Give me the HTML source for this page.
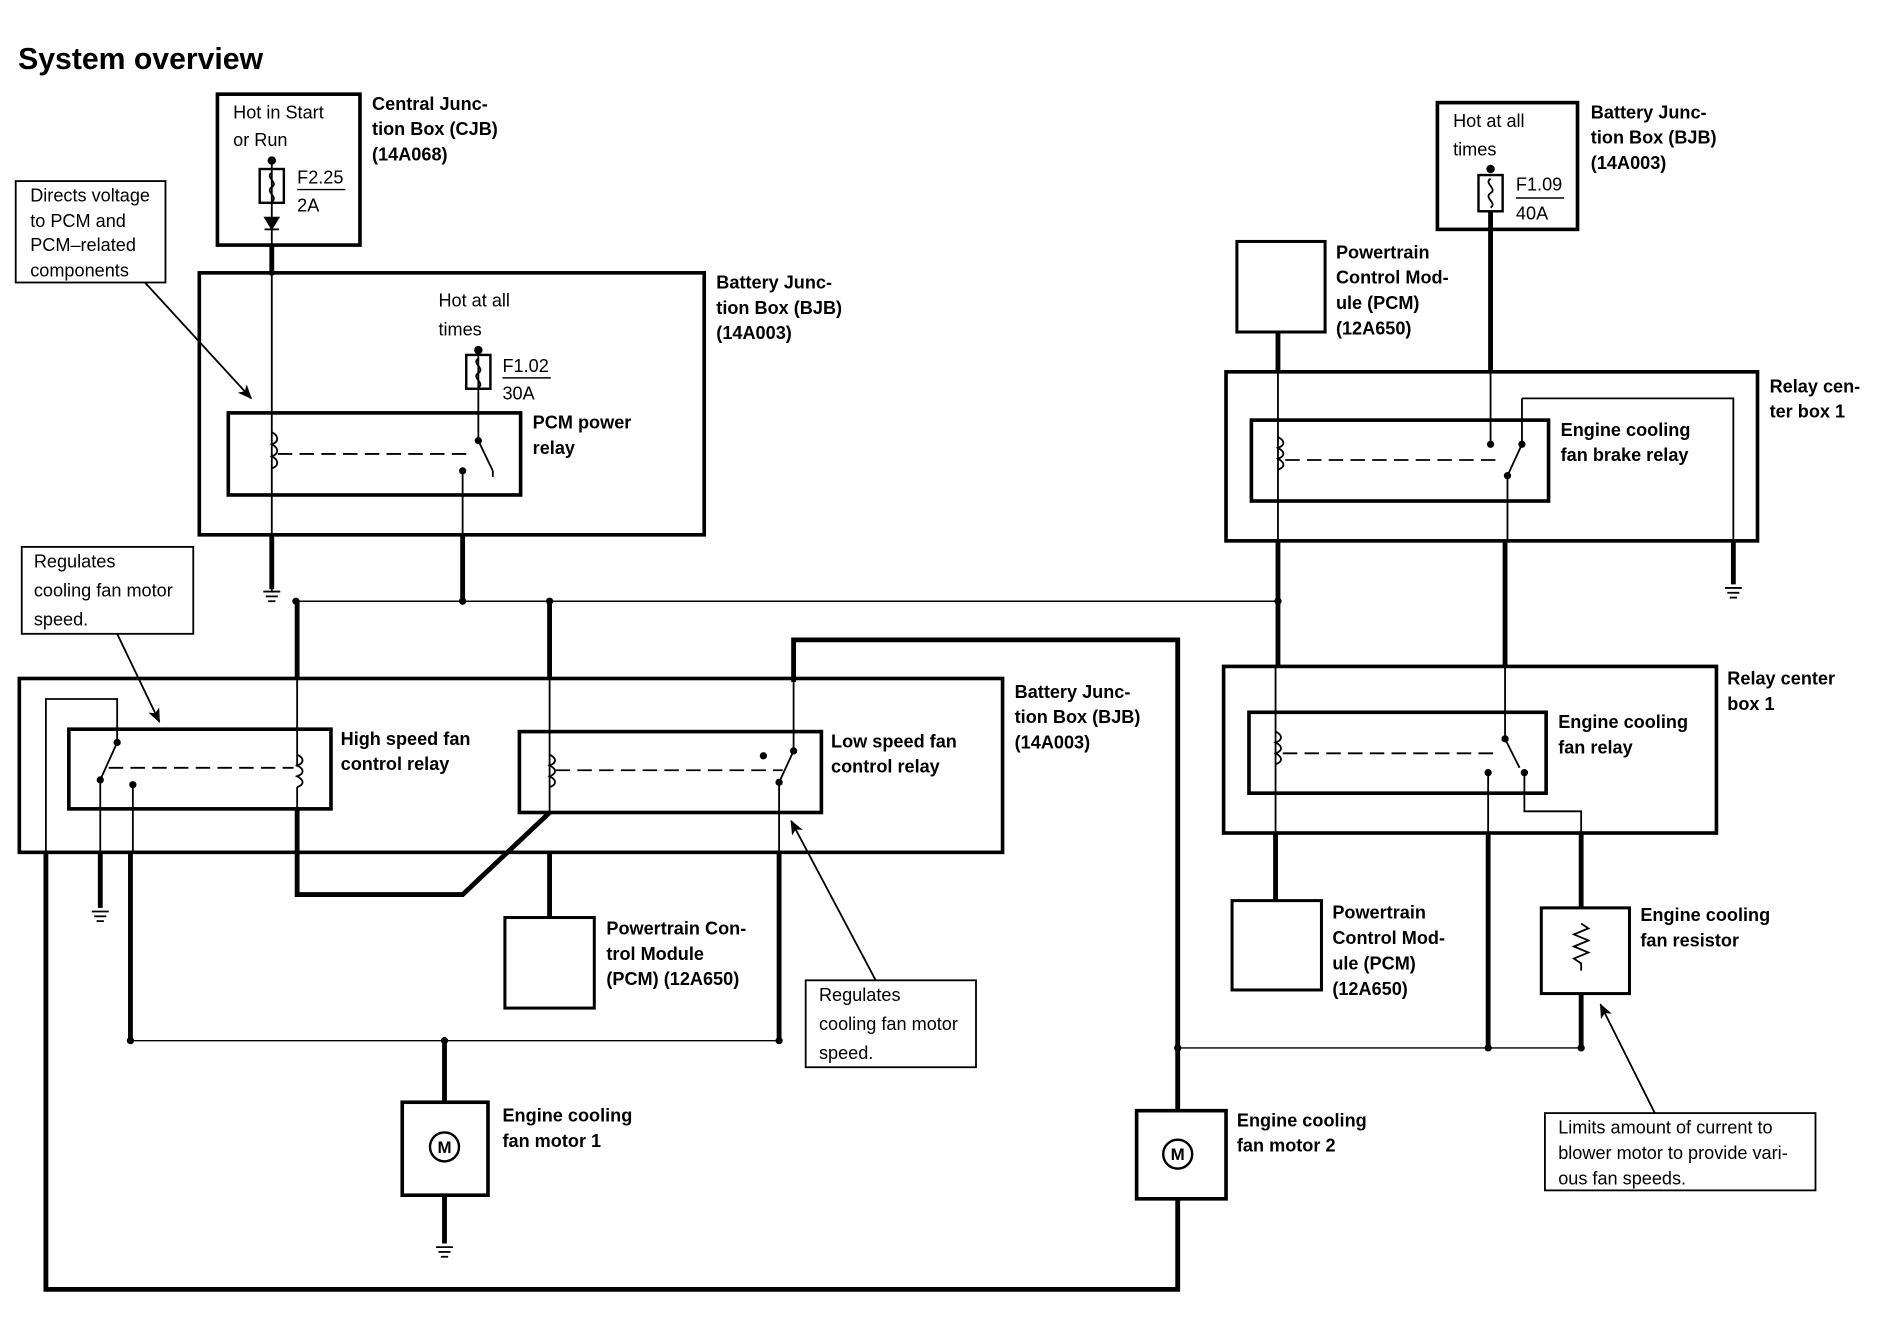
<!DOCTYPE html>
<html><head><meta charset="utf-8"><style>
html,body{margin:0;padding:0;background:#fff;}
svg{display:block;}
text{font-family:"Liberation Sans",Arial,sans-serif;fill:#000;}
.b{font-weight:bold;font-size:15px;}
.r{font-size:15px;}
</style></head><body>
<svg width="1894" height="1328" viewBox="0 0 1568 1100" preserveAspectRatio="none" xmlns="http://www.w3.org/2000/svg">
<defs>
<marker id="ar" markerWidth="12" markerHeight="10" refX="11" refY="5" orient="auto" markerUnits="userSpaceOnUse"><path d="M0,0 L12,5 L0,10 L3,5 Z" fill="#000"/></marker>
</defs>
<g fill="none" stroke="#000">
<rect x="180" y="78" width="118" height="125" stroke-width="3"/>
<line x1="225" y1="133" x2="225" y2="490" stroke-width="1.5"/>
<rect x="215" y="140" width="20" height="28" stroke-width="2"/>
<path d="M225,143 c-6,4 6,8 0,12 c-6,4 6,8 0,12" stroke-width="1.5"/>
<path d="M219,180 L231,180 L225,190 Z" fill="#000"/>
<line x1="219" y1="190" x2="231" y2="190" stroke-width="1.5"/>
<line x1="225" y1="203" x2="225" y2="228" stroke-width="4"/>
<line x1="246" y1="157" x2="286" y2="157" stroke-width="1.2"/>
<rect x="13" y="150" width="124" height="84" stroke-width="1.5"/>
<line x1="120" y1="234" x2="208" y2="330" stroke-width="1.5" marker-end="url(#ar)"/>
<rect x="165" y="226" width="418" height="217" stroke-width="3"/>
<rect x="386" y="294" width="20" height="28" stroke-width="2"/>
<path d="M396,297 c-6,4 6,8 0,12 c-6,4 6,8 0,12" stroke-width="1.5"/>
<line x1="396" y1="290" x2="396" y2="365" stroke-width="1.5"/>
<line x1="416" y1="313" x2="456" y2="313" stroke-width="1.2"/>
<rect x="189" y="342" width="242" height="68" stroke-width="3"/>
<path d="M225,358 c6,3 6,8 0,10 c6,3 6,8 0,10 c6,3 6,8 0,10" stroke-width="1.5"/>
<line x1="230" y1="376" x2="390" y2="376" stroke-width="1.5" stroke-dasharray="12,6"/>
<line x1="396" y1="365" x2="408" y2="390" stroke-width="1.5"/>
<line x1="408" y1="390" x2="408" y2="395" stroke-width="1.5"/>
<line x1="383" y1="390" x2="383" y2="443" stroke-width="1.5"/>
<line x1="225" y1="443" x2="225" y2="488" stroke-width="4"/>
<line x1="383" y1="443" x2="383" y2="498" stroke-width="4"/>
<line x1="245" y1="498" x2="1058" y2="498" stroke-width="1.2"/>
<line x1="246" y1="498" x2="246" y2="562" stroke-width="4"/>
<line x1="246" y1="562" x2="246" y2="635" stroke-width="1.5"/>
<line x1="455" y1="498" x2="455" y2="562" stroke-width="4"/>
<line x1="455" y1="562" x2="455" y2="673" stroke-width="1.5"/>
<rect x="18" y="453" width="142" height="72" stroke-width="1.5"/>
<line x1="97" y1="525" x2="132" y2="598" stroke-width="1.5" marker-end="url(#ar)"/>
<rect x="16" y="562" width="814" height="144" stroke-width="3"/>
<polyline points="38,706 38,579 97,579 97,615" stroke-width="1.5"/>
<rect x="57" y="604" width="217" height="66" stroke-width="3"/>
<line x1="97" y1="615" x2="83" y2="646" stroke-width="1.5"/>
<line x1="90" y1="636" x2="243" y2="636" stroke-width="1.5" stroke-dasharray="12,6"/>
<path d="M246,625 c6,3 6,7 0,9 c6,3 6,7 0,9 c6,3 6,7 0,9" stroke-width="1.5"/>
<line x1="246" y1="652" x2="246" y2="670" stroke-width="1.5"/>
<line x1="83" y1="646" x2="83" y2="706" stroke-width="1.5"/>
<line x1="110" y1="650" x2="110" y2="706" stroke-width="1.5"/>
<line x1="83" y1="706" x2="83" y2="752" stroke-width="4"/>
<line x1="108" y1="706" x2="108" y2="862" stroke-width="4"/>
<polyline points="246,670 246,741 383,741 455,673" stroke-width="4"/>
<rect x="430" y="606" width="250" height="67" stroke-width="3"/>
<path d="M455,625 c6,3 6,7 0,9 c6,3 6,7 0,9 c6,3 6,7 0,9" stroke-width="1.5"/>
<line x1="460" y1="638" x2="648" y2="638" stroke-width="1.5" stroke-dasharray="12,6"/>
<line x1="657" y1="565" x2="657" y2="622" stroke-width="1.5"/>
<line x1="657" y1="622" x2="645" y2="648" stroke-width="1.5"/>
<line x1="645" y1="648" x2="645" y2="706" stroke-width="1.5"/>
<polyline points="657,565 657,530 975,530 975,920" stroke-width="4"/>
<line x1="645" y1="706" x2="645" y2="862" stroke-width="4"/>
<line x1="455" y1="706" x2="455" y2="760" stroke-width="4"/>
<rect x="418" y="760" width="74" height="75" stroke-width="2.5"/>
<rect x="667" y="812" width="141" height="72" stroke-width="1.5"/>
<line x1="725" y1="812" x2="655" y2="680" stroke-width="1.5" marker-end="url(#ar)"/>
<line x1="108" y1="862" x2="645" y2="862" stroke-width="1.2"/>
<line x1="368" y1="862" x2="368" y2="913" stroke-width="4"/>
<rect x="333" y="913" width="71" height="77" stroke-width="3"/>
<circle cx="368" cy="950" r="12" stroke-width="2"/>
<line x1="368" y1="990" x2="368" y2="1030" stroke-width="4"/>
<polyline points="38,706 38,1068 975,1068 975,993" stroke-width="4"/>
<rect x="941" y="920" width="74" height="73" stroke-width="3"/>
<circle cx="975" cy="956" r="12" stroke-width="2"/>
<line x1="975" y1="868" x2="1309" y2="868" stroke-width="1.2"/>
<rect x="1190" y="85" width="116" height="105" stroke-width="3"/>
<rect x="1224" y="145" width="20" height="30" stroke-width="2"/>
<path d="M1234,148 c-6,4 6,8 0,12 c-6,4 6,8 0,12" stroke-width="1.5"/>
<line x1="1255" y1="164" x2="1295" y2="164" stroke-width="1.2"/>
<line x1="1234" y1="175" x2="1234" y2="308" stroke-width="4"/>
<rect x="1024" y="200" width="73" height="75" stroke-width="2.5"/>
<line x1="1058" y1="275" x2="1058" y2="308" stroke-width="4"/>
<rect x="1015" y="308" width="440" height="140" stroke-width="3"/>
<rect x="1036" y="348" width="246" height="67" stroke-width="3"/>
<line x1="1058" y1="308" x2="1058" y2="448" stroke-width="1.5"/>
<path d="M1058,362 c6,3 6,7 0,9 c6,3 6,7 0,9 c6,3 6,7 0,9" stroke-width="1.5"/>
<line x1="1064" y1="381" x2="1240" y2="381" stroke-width="1.5" stroke-dasharray="12,6"/>
<line x1="1234" y1="308" x2="1234" y2="368" stroke-width="1.5"/>
<polyline points="1260,330 1435,330 1435,448" stroke-width="1.5"/>
<polyline points="1260,330 1260,368 1248,394 1248,448" stroke-width="1.5"/>
<line x1="1058" y1="448" x2="1058" y2="552" stroke-width="4"/>
<line x1="1246" y1="448" x2="1246" y2="552" stroke-width="4"/>
<line x1="1435" y1="448" x2="1435" y2="484" stroke-width="4"/>
<rect x="1013" y="552" width="408" height="138" stroke-width="3"/>
<rect x="1034" y="590" width="246" height="67" stroke-width="3"/>
<line x1="1056" y1="552" x2="1056" y2="690" stroke-width="1.5"/>
<path d="M1056,606 c6,3 6,7 0,9 c6,3 6,7 0,9 c6,3 6,7 0,9" stroke-width="1.5"/>
<line x1="1062" y1="624" x2="1240" y2="624" stroke-width="1.5" stroke-dasharray="12,6"/>
<line x1="1246" y1="552" x2="1246" y2="612" stroke-width="1.5"/>
<line x1="1246" y1="612" x2="1258" y2="636" stroke-width="1.5"/>
<line x1="1232" y1="640" x2="1232" y2="690" stroke-width="1.5"/>
<polyline points="1262,640 1262,672 1309,672 1309,690" stroke-width="1.5"/>
<line x1="1056" y1="690" x2="1056" y2="746" stroke-width="4"/>
<rect x="1020" y="746" width="74" height="74" stroke-width="2.5"/>
<line x1="1232" y1="690" x2="1232" y2="868" stroke-width="4"/>
<line x1="1309" y1="690" x2="1309" y2="752" stroke-width="4"/>
<rect x="1276" y="752" width="73" height="71" stroke-width="2.5"/>
<path d="M1309,765 l6,4 l-12,5 l12,5 l-12,5 l12,5 l-12,5 l6,4 l0,6" stroke-width="1.5"/>
<line x1="1309" y1="823" x2="1309" y2="868" stroke-width="4"/>
<rect x="1279" y="922" width="224" height="64" stroke-width="1.5"/>
<line x1="1370" y1="922" x2="1325" y2="832" stroke-width="1.5" marker-end="url(#ar)"/>
</g>
<g fill="#000">
<circle cx="225" cy="133" r="3.5"/><circle cx="396" cy="290" r="3.5"/><circle cx="1234" cy="140" r="3.5"/>
<circle cx="396" cy="365" r="3"/><circle cx="383" cy="390" r="3"/>
<circle cx="245" cy="498" r="3"/><circle cx="383" cy="498" r="3"/><circle cx="455" cy="498" r="3"/><circle cx="1058" cy="498" r="3"/>
<circle cx="97" cy="615" r="3"/><circle cx="83" cy="646" r="3"/><circle cx="110" cy="650" r="3"/>
<circle cx="632" cy="626" r="3"/><circle cx="657" cy="622" r="3"/><circle cx="645" cy="648" r="3"/>
<circle cx="108" cy="862" r="3"/><circle cx="368" cy="862" r="3"/><circle cx="645" cy="862" r="3"/>
<circle cx="975" cy="868" r="3"/><circle cx="1232" cy="868" r="3"/><circle cx="1309" cy="868" r="3"/>
<circle cx="1234" cy="368" r="3"/><circle cx="1260" cy="368" r="3"/><circle cx="1248" cy="394" r="3"/>
<circle cx="1246" cy="612" r="3"/><circle cx="1232" cy="640" r="3"/><circle cx="1262" cy="640" r="3"/>
</g>
<g stroke="#000" stroke-width="1.5">
<line x1="218" y1="490" x2="232" y2="490"/><line x1="220" y1="494" x2="230" y2="494"/><line x1="222" y1="498" x2="228" y2="498"/>
<line x1="76" y1="755" x2="90" y2="755"/><line x1="78" y1="759" x2="88" y2="759"/><line x1="80" y1="763" x2="86" y2="763"/>
<line x1="361" y1="1033" x2="375" y2="1033"/><line x1="363" y1="1037" x2="373" y2="1037"/><line x1="365" y1="1041" x2="371" y2="1041"/>
<line x1="1428" y1="487" x2="1442" y2="487"/><line x1="1430" y1="491" x2="1440" y2="491"/><line x1="1432" y1="495" x2="1438" y2="495"/>
</g>
<text x="15" y="57" style="font-weight:bold;font-size:25px">System overview</text>
<text class="r" x="193" y="98">Hot in Start</text><text class="r" x="193" y="121">or Run</text>
<text class="r" x="246" y="152">F2.25</text><text class="r" x="246" y="175">2A</text>
<text class="b" x="308" y="91">Central Junc-</text><text class="b" x="308" y="112">tion Box (CJB)</text><text class="b" x="308" y="133">(14A068)</text>
<text class="r" x="25" y="167">Directs voltage</text><text class="r" x="25" y="188">to PCM and</text><text class="r" x="25" y="208">PCM–related</text><text class="r" x="25" y="229">components</text>
<text class="r" x="363" y="254">Hot at all</text><text class="r" x="363" y="278">times</text>
<text class="r" x="416" y="308">F1.02</text><text class="r" x="416" y="331">30A</text>
<text class="b" x="593" y="239">Battery Junc-</text><text class="b" x="593" y="260">tion Box (BJB)</text><text class="b" x="593" y="281">(14A003)</text>
<text class="b" x="441" y="355">PCM power</text><text class="b" x="441" y="376">relay</text>
<text class="r" x="28" y="470">Regulates</text><text class="r" x="28" y="494">cooling fan motor</text><text class="r" x="28" y="518">speed.</text>
<text class="b" x="282" y="617">High speed fan</text><text class="b" x="282" y="638">control relay</text>
<text class="b" x="688" y="619">Low speed fan</text><text class="b" x="688" y="640">control relay</text>
<text class="b" x="840" y="578">Battery Junc-</text><text class="b" x="840" y="599">tion Box (BJB)</text><text class="b" x="840" y="620">(14A003)</text>
<text class="b" x="502" y="774">Powertrain Con-</text><text class="b" x="502" y="795">trol Module</text><text class="b" x="502" y="816">(PCM) (12A650)</text>
<text class="r" x="678" y="829">Regulates</text><text class="r" x="678" y="853">cooling fan motor</text><text class="r" x="678" y="877">speed.</text>
<text x="368" y="955" text-anchor="middle" style="font-weight:bold;font-size:14px">M</text>
<text x="975" y="961" text-anchor="middle" style="font-weight:bold;font-size:14px">M</text>
<text class="b" x="416" y="929">Engine cooling</text><text class="b" x="416" y="950">fan motor 1</text>
<text class="b" x="1024" y="933">Engine cooling</text><text class="b" x="1024" y="954">fan motor 2</text>
<text class="r" x="1203" y="105">Hot at all</text><text class="r" x="1203" y="129">times</text>
<text class="r" x="1255" y="158">F1.09</text><text class="r" x="1255" y="182">40A</text>
<text class="b" x="1317" y="98">Battery Junc-</text><text class="b" x="1317" y="119">tion Box (BJB)</text><text class="b" x="1317" y="140">(14A003)</text>
<text class="b" x="1106" y="214">Powertrain</text><text class="b" x="1106" y="235">Control Mod-</text><text class="b" x="1106" y="256">ule (PCM)</text><text class="b" x="1106" y="277">(12A650)</text>
<text class="b" x="1465" y="325">Relay cen-</text><text class="b" x="1465" y="346">ter box 1</text>
<text class="b" x="1292" y="361">Engine cooling</text><text class="b" x="1292" y="382">fan brake relay</text>
<text class="b" x="1430" y="567">Relay center</text><text class="b" x="1430" y="588">box 1</text>
<text class="b" x="1290" y="603">Engine cooling</text><text class="b" x="1290" y="624">fan relay</text>
<text class="b" x="1103" y="761">Powertrain</text><text class="b" x="1103" y="782">Control Mod-</text><text class="b" x="1103" y="803">ule (PCM)</text><text class="b" x="1103" y="824">(12A650)</text>
<text class="b" x="1358" y="763">Engine cooling</text><text class="b" x="1358" y="784">fan resistor</text>
<text class="r" x="1290" y="939">Limits amount of current to</text><text class="r" x="1290" y="960">blower motor to provide vari-</text><text class="r" x="1290" y="981">ous fan speeds.</text>
</svg>
</body></html>
